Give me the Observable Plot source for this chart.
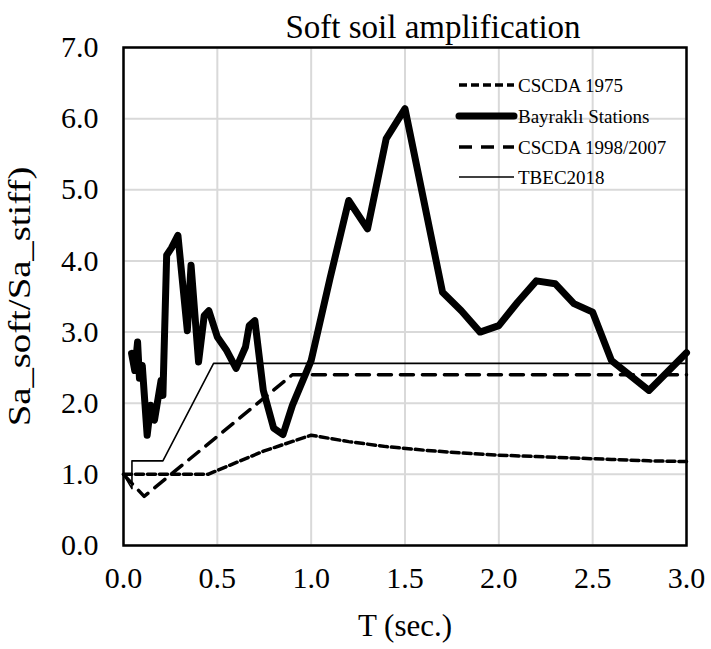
<!DOCTYPE html>
<html><head><meta charset="utf-8">
<script src="https://cdn.jsdelivr.net/npm/d3@7"></script>
<script src="https://cdn.jsdelivr.net/npm/@observablehq/plot@0.6"></script>
<style>body{margin:0;background:#fff;}</style>
</head><body><div id="chart"></div>
<script>
// ---- data ----
const xTicks = [0, 0.5, 1.0, 1.5, 2.0, 2.5, 3.0];
const yTicks = [0, 1, 2, 3, 4, 5, 6, 7];

const bayT = [0.043, 0.06, 0.075, 0.085, 0.10, 0.126, 0.145, 0.165, 0.20, 0.21, 0.23, 0.255, 0.29, 0.34, 0.36, 0.40, 0.43, 0.455, 0.50, 0.55, 0.60, 0.65, 0.67, 0.70, 0.745, 0.80, 0.85, 0.90, 1.0, 1.1, 1.2, 1.3, 1.4, 1.5, 1.6, 1.7, 1.8, 1.9, 2.0, 2.1, 2.2, 2.3, 2.4, 2.5, 2.6, 2.8, 3.0];
const bayV = [2.70, 2.46, 2.86, 2.35, 2.53, 1.55, 1.97, 1.76, 2.32, 2.11, 4.08, 4.18, 4.36, 3.02, 3.94, 2.58, 3.23, 3.30, 2.93, 2.74, 2.49, 2.79, 3.09, 3.16, 2.18, 1.65, 1.56, 1.97, 2.60, 3.75, 4.85, 4.45, 5.72, 6.14, 4.85, 3.56, 3.30, 3.00, 3.09, 3.42, 3.72, 3.68, 3.40, 3.28, 2.60, 2.18, 2.71];

const c75T = [0, 0.45, 0.75, 1.0, 1.2, 1.4, 1.6, 1.8, 2.0, 2.2, 2.4, 2.6, 2.8, 3.0];
const c75V = [1.0, 1.0, 1.33, 1.55, 1.46, 1.39, 1.34, 1.30, 1.27, 1.25, 1.23, 1.21, 1.19, 1.18];

const c98T = [0, 0.11, 0.9, 3.0];
const c98V = [1.0, 0.69, 2.40, 2.40];

const tbT = [0, 0.045, 0.045, 0.21, 0.48, 3.0];
const tbV = [1.0, 0.80, 1.19, 1.19, 2.56, 2.56];

const seriesNames = ["CSCDA 1975", "Bayraklı Stations", "CSCDA 1998/2007", "TBEC2018"];

const toRows = (T, V) => T.map((t, i) => ({t, v: V[i]}));

const FONT = "'Liberation Serif', 'Times New Roman', serif";
const Y_LABEL = "Sa_soft/Sa_stiff)";

const chart = Plot.plot({
  width: 711, height: 649,
  marginLeft: 123, marginRight: 25, marginTop: 47, marginBottom: 104,
  style: {fontFamily: FONT, background: "#fff", color: "#000"},
  x: {domain: [0, 3], label: null},
  y: {domain: [0, 7], label: null},
  marks: [
    Plot.gridX(xTicks, {stroke: "#d9d9d9", strokeOpacity: 1, strokeWidth: 2}),
    Plot.gridY(yTicks, {stroke: "#d9d9d9", strokeOpacity: 1, strokeWidth: 2}),
    Plot.line(toRows(tbT, tbV), {x: "t", y: "v", stroke: "#000", strokeWidth: 1.6}),
    Plot.line(toRows(c98T, c98V), {x: "t", y: "v", stroke: "#000", strokeWidth: 3.5, strokeDasharray: "13,9"}),
    Plot.line(toRows(c75T, c75V), {x: "t", y: "v", stroke: "#000", strokeWidth: 3.5, strokeDasharray: "8,4"}),
    Plot.line(toRows(bayT, bayV), {x: "t", y: "v", stroke: "#000", strokeWidth: 7, strokeLinejoin: "round", strokeLinecap: "round"}),
    Plot.frame({stroke: "#000", strokeWidth: 2.5}),
    Plot.axisX(xTicks, {tickSize: 0, tickPadding: 21, tickFormat: d3.format(".1f"), fontSize: 30, label: null}),
    Plot.axisY(yTicks, {tickSize: 0, tickPadding: 25, tickFormat: d3.format(".1f"), fontSize: 30, label: null}),
    Plot.text(["T (sec.)"], {frameAnchor: "bottom", dy: 90, fontSize: 31, fill: "#000"}),
    Plot.text([Y_LABEL], {frameAnchor: "left", textAnchor: "middle", dx: -103, rotate: -90, fontSize: 31, fill: "#000"}),
    Plot.text(["Soft soil amplification"], {frameAnchor: "top", textAnchor: "middle", dy: -33, dx: 28, fontSize: 33, fill: "#000"})
  ]
});

document.getElementById("chart").appendChild(chart);

const svg = d3.select(chart);
// stretch the rotated y-axis title along its length, as in the reference
svg.selectAll("text").filter(function() { return this.textContent === Y_LABEL; })
  .each(function() {
    const t = this.getAttribute("transform") || "";
    this.setAttribute("transform", t + " scale(1.25,1)");
  });

// legend
const legendStyles = [
  {w: 3.5, dash: "8,4", cap: "butt"},
  {w: 7, dash: null, cap: "round"},
  {w: 3.5, dash: "13,9", cap: "butt"},
  {w: 1.6, dash: null, cap: "butt"}
];
const lg = svg.append("g").attr("font-family", FONT).attr("font-size", 19).attr("text-anchor", "start");
const ys = [85, 116, 147, 177];
seriesNames.forEach((name, i) => {
  const s = legendStyles[i];
  const ln = lg.append("line").attr("x1", 459).attr("x2", 514).attr("y1", ys[i]).attr("y2", ys[i])
    .attr("stroke", "#000").attr("stroke-width", s.w).attr("stroke-linecap", s.cap);
  if (s.dash) ln.attr("stroke-dasharray", s.dash);
  lg.append("text").attr("x", 518).attr("y", ys[i]).attr("dy", "0.35em").attr("fill", "#000").text(name);
});
</script>
</body></html>
